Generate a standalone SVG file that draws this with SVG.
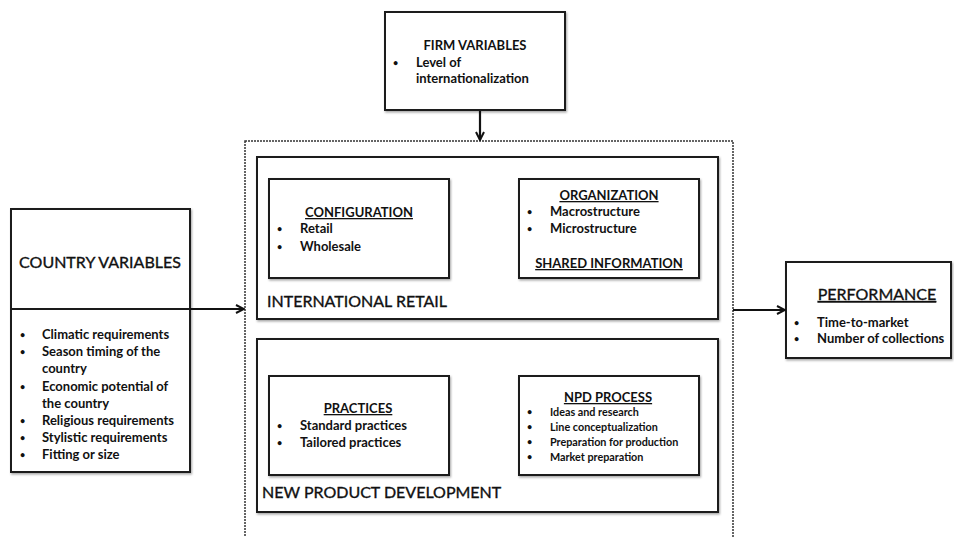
<svg xmlns="http://www.w3.org/2000/svg" width="954" height="537" viewBox="0 0 954 537">
<defs>
<marker id="ah" markerWidth="10" markerHeight="10" refX="9" refY="5" orient="auto" markerUnits="userSpaceOnUse">
<path d="M1,1 L9,5 L1,9" fill="none" stroke="#111" stroke-width="2"/>
</marker>
<filter id="sh" x="-5%" y="-5%" width="115%" height="115%">
<feDropShadow dx="1" dy="1.5" stdDeviation="0.8" flood-color="#000" flood-opacity="0.35"/>
</filter>
</defs>
<style>
.box{fill:#fff;stroke:#1a1a1a;stroke-width:2;filter:url(#sh)}
.dash{fill:none;stroke:#333;stroke-width:1.5;stroke-dasharray:2 1}
.t{font-family:Lato,"Liberation Sans",sans-serif;font-weight:bold;fill:#111}
.s13{font-size:13px}
.s11{font-size:10.8px}
.b{font-size:9px}
.h{text-decoration:underline}
.big{font-size:16px;font-weight:normal;stroke:#111;stroke-width:0.35}
.conn{stroke:#111;stroke-width:2.2;fill:none}
</style>
<rect width="954" height="537" fill="#fff"/>

<g id="container">
<rect class="dash" x="245" y="141" width="488" height="410"/>
</g>

<g id="firm">
<rect class="box" x="385" y="12" width="180" height="98"/>
<text class="t s13" x="475" y="50" text-anchor="middle">FIRM VARIABLES</text>
<text class="t b" x="393" y="66">•</text>
<text class="t s13" x="416" y="67">Level of</text>
<text class="t s13" x="416" y="83">internationalization</text>
</g>

<g id="country">
<rect class="box" x="11" y="209" width="179" height="263"/>
<line x1="11" y1="309" x2="190" y2="309" stroke="#1a1a1a" stroke-width="2"/>
<text class="t big" x="100" y="268" text-anchor="middle">COUNTRY VARIABLES</text>
<g class="t s13">
<text class="b" x="20" y="338">•</text><text x="42" y="339">Climatic requirements</text>
<text class="b" x="20" y="355">•</text><text x="42" y="356">Season timing of the</text>
<text x="42" y="373">country</text>
<text class="b" x="20" y="390">•</text><text x="42" y="391">Economic potential of</text>
<text x="42" y="408">the country</text>
<text class="b" x="20" y="424">•</text><text x="42" y="425">Religious requirements</text>
<text class="b" x="20" y="441">•</text><text x="42" y="442">Stylistic requirements</text>
<text class="b" x="20" y="458">•</text><text x="42" y="459">Fitting or size</text>
</g>
</g>

<g id="international-retail">
<rect class="box" x="257" y="157" width="461" height="162"/>
<text class="t big" x="267" y="307">INTERNATIONAL RETAIL</text>
</g>

<g id="configuration">
<rect class="box" x="269" y="179" width="180" height="99"/>
<text class="t s13 h" x="359" y="217" text-anchor="middle">CONFIGURATION</text>
<text class="t b" x="277" y="232">•</text><text class="t s13" x="300" y="233">Retail</text>
<text class="t b" x="277" y="250">•</text><text class="t s13" x="300" y="251">Wholesale</text>
</g>

<g id="organization">
<rect class="box" x="519" y="179" width="180" height="99"/>
<text class="t s13 h" x="609" y="200" text-anchor="middle">ORGANIZATION</text>
<text class="t b" x="527" y="215">•</text><text class="t s13" x="550" y="216">Macrostructure</text>
<text class="t b" x="527" y="232">•</text><text class="t s13" x="550" y="233">Microstructure</text>
<text class="t s13 h" x="609" y="268" text-anchor="middle">SHARED INFORMATION</text>
</g>

<g id="new-product-development">
<rect class="box" x="257" y="339" width="461" height="173"/>
<text class="t big" x="262" y="498">NEW PRODUCT DEVELOPMENT</text>
</g>

<g id="practices">
<rect class="box" x="269" y="376" width="180" height="99"/>
<text class="t s13 h" x="358" y="413" text-anchor="middle">PRACTICES</text>
<text class="t b" x="277" y="429">•</text><text class="t s13" x="300" y="430">Standard practices</text>
<text class="t b" x="277" y="446">•</text><text class="t s13" x="300" y="447">Tailored practices</text>
</g>

<g id="npd-process">
<rect class="box" x="519" y="376" width="180" height="99"/>
<text class="t s13 h" x="608" y="402" text-anchor="middle">NPD PROCESS</text>
<g class="t s11">
<text class="b" x="527" y="415">•</text><text x="550" y="416">Ideas and research</text>
<text class="b" x="527" y="430">•</text><text x="550" y="431">Line conceptualization</text>
<text class="b" x="527" y="445">•</text><text x="550" y="446">Preparation for production</text>
<text class="b" x="527" y="460">•</text><text x="550" y="461">Market preparation</text>
</g>
</g>

<g id="performance">
<rect class="box" x="786" y="262" width="165" height="96"/>
<text class="t big h" x="877" y="300" text-anchor="middle">PERFORMANCE</text>
<text class="t b" x="794" y="326">•</text><text class="t s13" x="817" y="327">Time-to-market</text>
<text class="t b" x="794" y="342">•</text><text class="t s13" x="817" y="343">Number of collections</text>
</g>

<g id="connectors">
<line class="conn" x1="480" y1="111" x2="480" y2="140" marker-end="url(#ah)"/>
<line class="conn" x1="190" y1="309" x2="244" y2="309" marker-end="url(#ah)"/>
<line class="conn" x1="733" y1="310" x2="785" y2="310" marker-end="url(#ah)"/>
</g>
</svg>
